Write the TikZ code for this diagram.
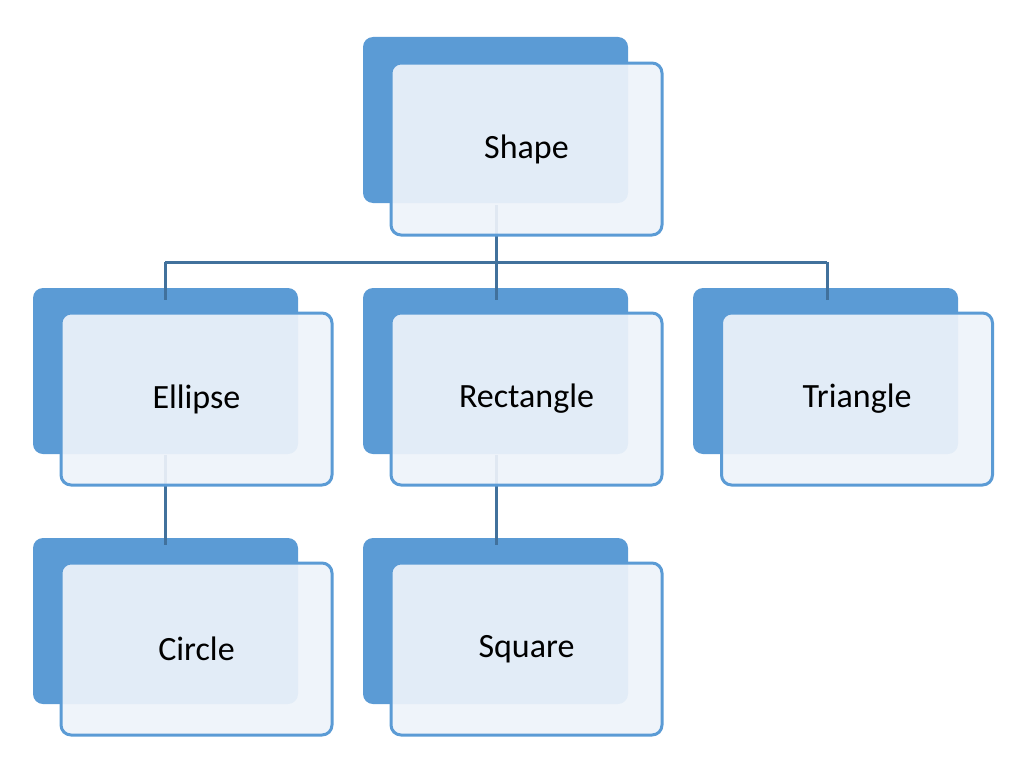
\documentclass[tikz,border=0pt]{standalone}
\usepackage{fontspec}
\setmainfont{Carlito}
\definecolor{backc}{HTML}{5B9BD5}
\definecolor{frontc}{HTML}{EEF3FA}
\definecolor{linec}{HTML}{41719C}
\begin{document}
\begin{tikzpicture}[x=1pt,y=-1pt,
 backbox/.style={fill=backc,draw=none,rounded corners=10pt},
 frontbox/.style={fill=frontc,fill opacity=0.92,draw=backc,line width=3pt,rounded corners=10pt,text opacity=1,font=\fontsize{34}{40}\selectfont},
 conn/.style={draw=linec,line width=3pt}]
\useasboundingbox (0,0) rectangle (1024,760);
% connector coordinates
\coordinate (s0) at (496,205);
\coordinate (sh) at (496,262);
\coordinate (eh) at (165,262);
\coordinate (th) at (827,262);
\coordinate (e0) at (165,300);
\coordinate (r0) at (496,300);
\coordinate (t0) at (827,300);
\coordinate (eb) at (165,455);
\coordinate (c0) at (165,545);
\coordinate (rb) at (496,455);
\coordinate (q0) at (496,545);
% back boxes
\foreach \x/\y in {363/37,33/288,363/288,693/288,33/538,363/538}
  \fill[backc,rounded corners=10pt] (\x,\y) rectangle ++(265,166);
\draw[conn] (s0) -- (sh) (eh) -- (th) (eh) -- (e0) (sh) -- (r0) (th) -- (t0) (eb) -- (c0) (rb) -- (q0);
% front boxes
\node[frontbox,minimum width=271pt,minimum height=172pt] (shape) at (526.5,149) {Shape};
\node[frontbox,minimum width=271pt,minimum height=172pt] (ellipse) at (196.5,399) {Ellipse};
\node[frontbox,minimum width=271pt,minimum height=172pt] (rect) at (526.5,399) {Rectangle};
\node[frontbox,minimum width=271pt,minimum height=172pt] (tri) at (857,399) {Triangle};
\node[frontbox,minimum width=271pt,minimum height=172pt] (circle) at (196.5,649) {Circle};
\node[frontbox,minimum width=271pt,minimum height=172pt] (square) at (526.5,649) {Square};
\end{tikzpicture}
\end{document}
